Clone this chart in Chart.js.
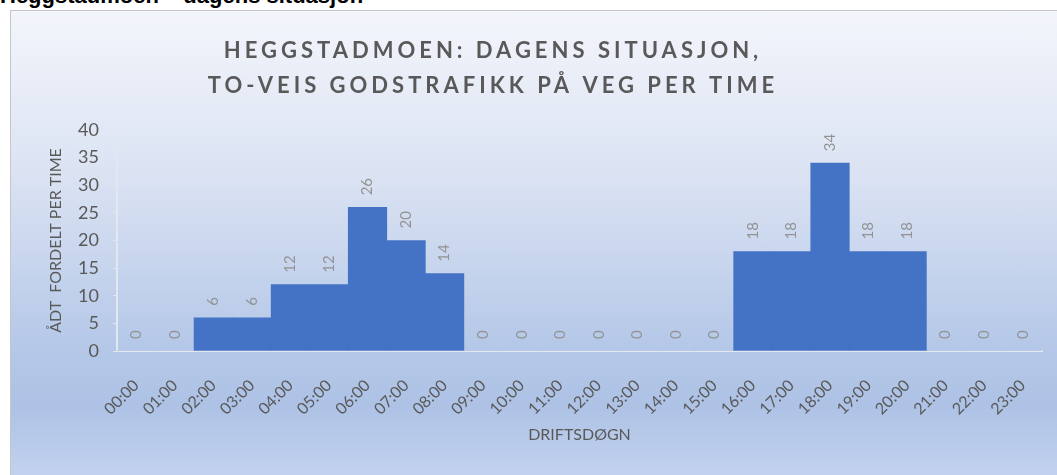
<!DOCTYPE html>
<html>
<head>
<meta charset="utf-8">
<title>Heggstadmoen</title>
<script src="https://cdn.jsdelivr.net/npm/chart.js@4.4.0/dist/chart.umd.min.js"></script>
<style>
  body { margin: 0; background: #fff; overflow: hidden; width: 1057px; height: 475px; position: relative; }
  #heading { position: absolute; left: 0; top: -15px; font: bold 22px "Liberation Sans", Arial, sans-serif; line-height: 22px; color: #000; white-space: nowrap; }
  #panel {
    position: absolute; left: 10px; top: 10px; width: 1046px; height: 464px;
    border-left: 1px solid #c6c6c6; border-top: 1px solid #c6c6c6;
    background: linear-gradient(to bottom, #f3f5fb 0%, #dbe3f3 35%, #b5c8e8 72%, #adc2e5 85%, #c2d2ee 100%);
  }
</style>
</head>
<body>
<div id="heading">Heggstadmoen – dagens situasjon</div>
<div id="panel"><canvas id="chart1"></canvas></div>
<script>
var hours = ['00:00', '01:00', '02:00', '03:00', '04:00', '05:00', '06:00', '07:00', '08:00', '09:00', '10:00', '11:00',
             '12:00', '13:00', '14:00', '15:00', '16:00', '17:00', '18:00', '19:00', '20:00', '21:00', '22:00', '23:00'];
var trips = [0, 0, 6, 6, 12, 12, 26, 20, 14, 0, 0, 0, 0, 0, 0, 0, 18, 18, 34, 18, 18, 0, 0, 0];
var yTicks = [0, 5, 10, 15, 20, 25, 30, 35, 40];
var chartTitle = ['HEGGSTADMOEN: DAGENS SITUASJON,', 'TO-VEIS GODSTRAFIKK PÅ VEG PER TIME'];
var yTitle = 'ÅDT  FORDELT PER TIME';
var xTitle = 'DRIFTSDØGN';

var textGrey = '#595959';
var axisColor = '#e2e7f0';

// title with letter spacing, chart.js title can't do that
var spacedTitle = {
  id: 'spacedTitle',
  afterDraw: function (chart) {
    var ctx = chart.ctx;
    ctx.save();
    ctx.font = 'bold 22px Lato';
    ctx.letterSpacing = '4px';
    ctx.fillStyle = textGrey;
    ctx.textAlign = 'center';
    ctx.textBaseline = 'middle';
    chartTitle.forEach(function (line, i) {
      ctx.fillText(line, 482, 40 + i * 35);
    });
    ctx.restore();
  }
};

// rotated value labels above each bar
var barValues = {
  id: 'barValues',
  afterDatasetsDraw: function (chart) {
    var ctx = chart.ctx;
    var meta = chart.getDatasetMeta(0);
    ctx.save();
    ctx.font = '15px Lato';
    ctx.fillStyle = '#939393';
    ctx.textAlign = 'left';
    ctx.textBaseline = 'middle';
    meta.data.forEach(function (bar, i) {
      ctx.save();
      ctx.translate(bar.x, bar.y - 12);
      ctx.rotate(-Math.PI / 2);
      ctx.fillText(String(trips[i]), 0, 0);
      ctx.restore();
    });
    ctx.restore();
  }
};

var ctx = document.getElementById('chart1').getContext('2d');
var myChart1 = new Chart(ctx, {
  type: 'bar',
  data: {
    labels: hours,
    datasets: [{
      label: 'Godstrafikk',
      data: trips,
      backgroundColor: '#4472c4',
      borderWidth: 0,
      barPercentage: 1,
      categoryPercentage: 1
    }]
  },
  options: {
    responsive: true,
    maintainAspectRatio: false,
    animation: false,
    layout: {
      padding: { left: 0, right: 15, top: 119, bottom: 0 }
    },
    plugins: {
      legend: { display: false },
      tooltip: { enabled: false }
    },
    scales: {
      x: {
        grid: { display: false },
        border: { display: true, color: axisColor, width: 2 },
        ticks: {
          autoSkip: false,
          minRotation: 45,
          maxRotation: 45,
          padding: 17,
          color: textGrey,
          font: { family: 'Lato', size: 16 }
        },
        title: {
          display: true,
          text: xTitle,
          color: textGrey,
          font: { family: 'Lato', size: 16 },
          padding: { top: 0, bottom: 31 }
        },
        afterFit: function (scale) {
          scale.height = 124;
        }
      },
      y: {
        min: 0,
        max: 40,
        grid: { drawOnChartArea: false, drawTicks: true, tickLength: 4, color: axisColor },
        border: { display: true, color: axisColor, width: 2 },
        ticks: {
          padding: 14,
          color: textGrey,
          font: { family: 'Lato', size: 18 }
        },
        afterBuildTicks: function (scale) {
          scale.ticks = yTicks.map(function (v) { return { value: v }; });
        },
        title: {
          display: true,
          text: yTitle,
          color: textGrey,
          font: { family: 'Lato', size: 16 },
          padding: { top: 35, bottom: 0 }
        },
        afterFit: function (scale) {
          scale.width = 106;
        }
      }
    }
  },
  plugins: [spacedTitle, barValues]
});
</script>
</body>
</html>
